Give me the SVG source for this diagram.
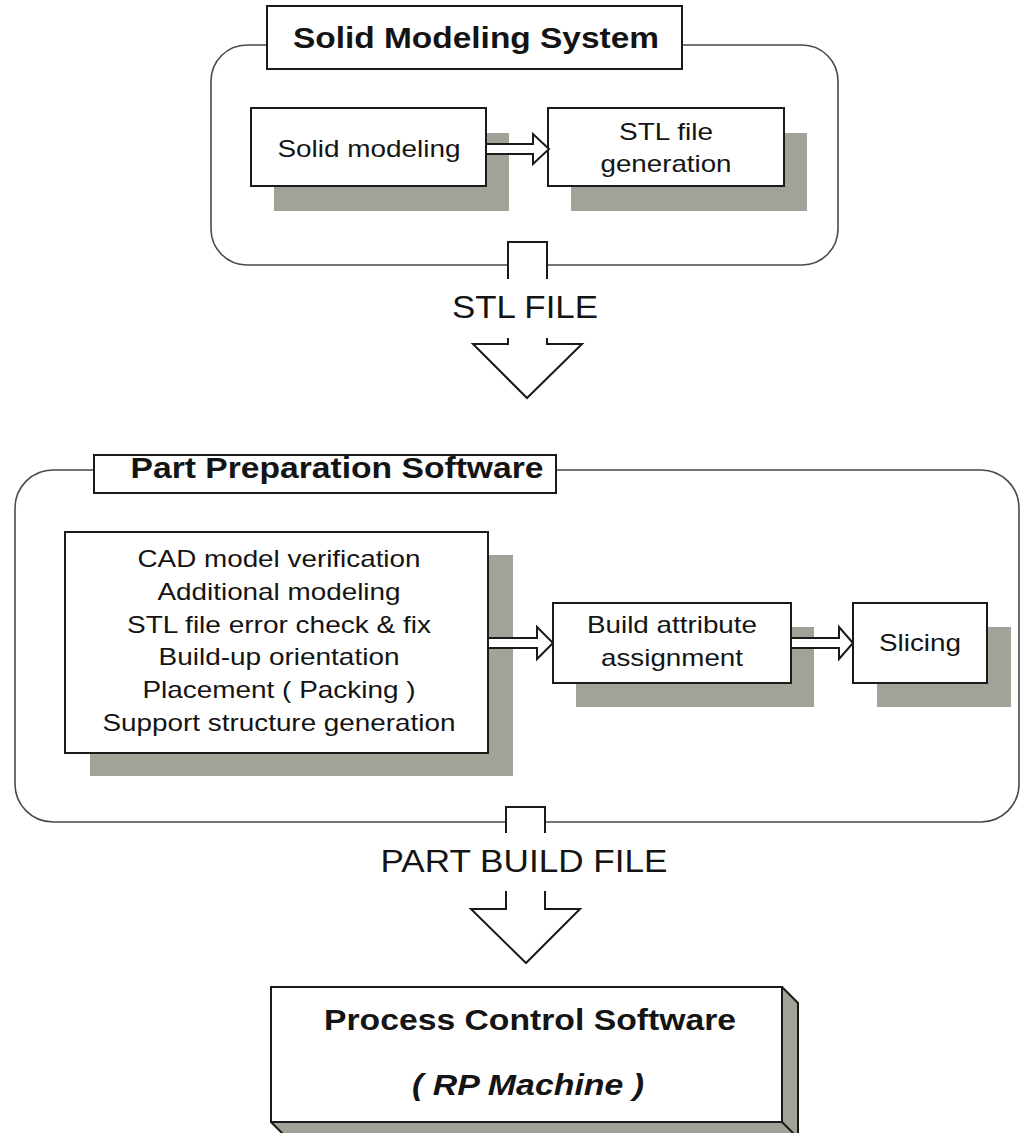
<svg xmlns="http://www.w3.org/2000/svg" width="1022" height="1133" viewBox="0 0 1022 1133">
<style>
text{font-family:"Liberation Sans",Arial,sans-serif;fill:#141414;text-anchor:middle}
.t{font-size:24px}
.h{font-size:29px;font-weight:bold}
.big{font-size:32px}
.box{fill:#fff;stroke:#1a1a1a;stroke-width:2}
.sh{fill:#a2a299}
.cont{fill:none;stroke:#4a4a4a;stroke-width:1.6}
.arr{fill:#fff;stroke:#1a1a1a;stroke-width:2;stroke-linejoin:miter}
.face{fill:#a2a299;stroke:#1a1a1a;stroke-width:2;stroke-linejoin:round}
</style>
<rect width="1022" height="1133" fill="#fff"/>

<g id="solid-modeling-system">
<rect class="cont" x="211" y="45" width="627" height="220" rx="36"/>
<rect class="box" x="267" y="6" width="415" height="63"/>
<text class="h" x="476" y="48" textLength="366" lengthAdjust="spacingAndGlyphs">Solid Modeling System</text>
</g>

<g id="solid-modeling">
<rect class="sh" x="274" y="133" width="235" height="78"/>
<rect class="box" x="251" y="108" width="235" height="78"/>
<text class="t" x="369" y="157" textLength="183" lengthAdjust="spacingAndGlyphs">Solid modeling</text>
</g>

<g id="stl-generation">
<rect class="sh" x="571" y="133" width="236" height="78"/>
<rect class="box" x="548" y="108" width="236" height="78"/>
<text class="t" x="666" y="140" textLength="94" lengthAdjust="spacingAndGlyphs">STL file</text>
<text class="t" x="666" y="172" textLength="131" lengthAdjust="spacingAndGlyphs">generation</text>
</g>

<g id="part-preparation-software">
<rect class="cont" x="15" y="470" width="1004" height="352" rx="38"/>
<rect class="box" x="94" y="455" width="462" height="38"/>
<text class="h" x="337" y="478" textLength="413" lengthAdjust="spacingAndGlyphs">Part Preparation Software</text>
</g>

<g id="cad-tasks">
<rect class="sh" x="90" y="555" width="423" height="221"/>
<rect class="box" x="65" y="532" width="423" height="221"/>
<text class="t" x="279" y="567" textLength="283" lengthAdjust="spacingAndGlyphs">CAD model verification</text>
<text class="t" x="279" y="600" textLength="243" lengthAdjust="spacingAndGlyphs">Additional modeling</text>
<text class="t" x="279" y="633" textLength="304" lengthAdjust="spacingAndGlyphs">STL file error check &amp; fix</text>
<text class="t" x="279" y="665" textLength="241" lengthAdjust="spacingAndGlyphs">Build-up orientation</text>
<text class="t" x="279" y="698" textLength="273" lengthAdjust="spacingAndGlyphs">Placement ( Packing )</text>
<text class="t" x="279" y="731" textLength="353" lengthAdjust="spacingAndGlyphs">Support structure generation</text>
</g>

<g id="build-attribute">
<rect class="sh" x="576" y="627" width="238" height="80"/>
<rect class="box" x="553" y="603" width="238" height="80"/>
<text class="t" x="672" y="633" textLength="170" lengthAdjust="spacingAndGlyphs">Build attribute</text>
<text class="t" x="672" y="666" textLength="142" lengthAdjust="spacingAndGlyphs">assignment</text>
</g>

<g id="slicing">
<rect class="sh" x="877" y="627" width="134" height="80"/>
<rect class="box" x="853" y="603" width="134" height="80"/>
<text class="t" x="920" y="651" textLength="82" lengthAdjust="spacingAndGlyphs">Slicing</text>
</g>

<g id="process-control-software">
<polygon class="face" points="782,987 798,1003 798,1145 782,1129"/>
<polygon class="face" points="271,1122 782,1122 798,1138 287,1138"/>
<rect class="box" x="271" y="987" width="511" height="135"/>
<text class="h" x="530" y="1030" textLength="412" lengthAdjust="spacingAndGlyphs">Process Control Software</text>
<text class="h" x="528" y="1095" font-style="italic" textLength="232" lengthAdjust="spacingAndGlyphs">( RP Machine )</text>
</g>

<g id="connectors">
<path class="arr" d="M487,144 H533 V134 L549,149 L533,164 V154 H487"/>
<path class="arr" d="M489,638 H537 V627 L553,643 L537,659 V648 H489"/>
<path class="arr" d="M792,638 H839 V627 L853,643 L839,659 V648 H792"/>

<rect x="508" y="243" width="39" height="36" fill="#fff"/>
<path class="arr" fill="none" d="M508,279 V242 H547 V279"/>
<text class="big" x="525" y="318" textLength="146" lengthAdjust="spacingAndGlyphs">STL FILE</text>
<path class="arr" d="M508,338 V344 H473 L527,398 L582,344 H547 V338"/>

<rect x="506" y="808" width="39" height="25" fill="#fff"/>
<path class="arr" fill="none" d="M506,833 V807 H545 V833"/>
<text class="big" x="524" y="872" textLength="287" lengthAdjust="spacingAndGlyphs">PART BUILD FILE</text>
<path class="arr" d="M506,891 V909 H471 L526,963 L580,909 H545 V891"/>
</g>
</svg>
